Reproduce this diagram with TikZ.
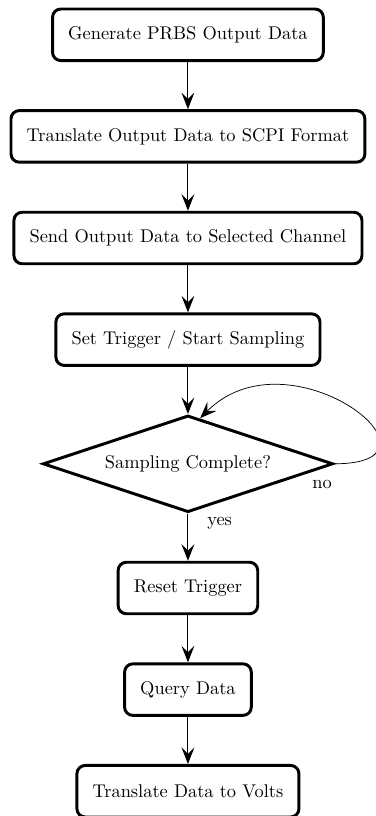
\documentclass[tikz,border=0pt]{standalone}
\usepackage{tikz}
\usetikzlibrary{shapes.geometric,arrows.meta,positioning}

\begin{document}
\begin{tikzpicture}[node distance=25.6pt,
    block/.style={rectangle, draw, ultra thick, rounded corners=4.5pt, minimum height=28pt, inner xsep=8.5pt},
    decision/.style={diamond, draw, ultra thick, aspect=3, inner sep=5pt},
    flow/.style={semithick, -{Stealth[length=9pt,width=7pt,inset=3.5pt]}}]
    \useasboundingbox (-102.1pt,18.9pt) rectangle (102.1pt,-424.4pt);
    \node [block] (gen) at (0,0) {Generate PRBS Output Data};
    \node [block, below=of gen] (scpi) {Translate Output Data to SCPI Format};
    \node [block, below=of scpi] (send) {Send Output Data to Selected Channel};
    \node [block, below=of send] (trig) {Set Trigger / Start Sampling};
    \node [decision, below=of trig] (done) {Sampling Complete?};
    \node [block, below=of done] (reset) {Reset Trigger};
    \node [block, below=of reset] (query) {Query Data};
    \node [block, below=of query] (volts) {Translate Data to Volts};
    % labels of the decision
    \node [below left=5.3pt and -2.1pt of done.east] (no) {no};
    \node [below right=-1.5pt and 7pt of done.south] (yes) {yes};
    % connectors
    \draw [flow] (gen) -- (scpi);
    \draw [flow] (scpi) -- (send);
    \draw [flow] (send) -- (trig);
    \draw [flow] (trig) -- (done);
    \draw [flow] (done) -- (reset);
    \draw [flow] (reset) -- (query);
    \draw [flow] (query) -- (volts);
    \draw [flow, thin] (done.east) to [out=0, in=45, looseness=2.3] (done.75);
\end{tikzpicture}
\end{document}
